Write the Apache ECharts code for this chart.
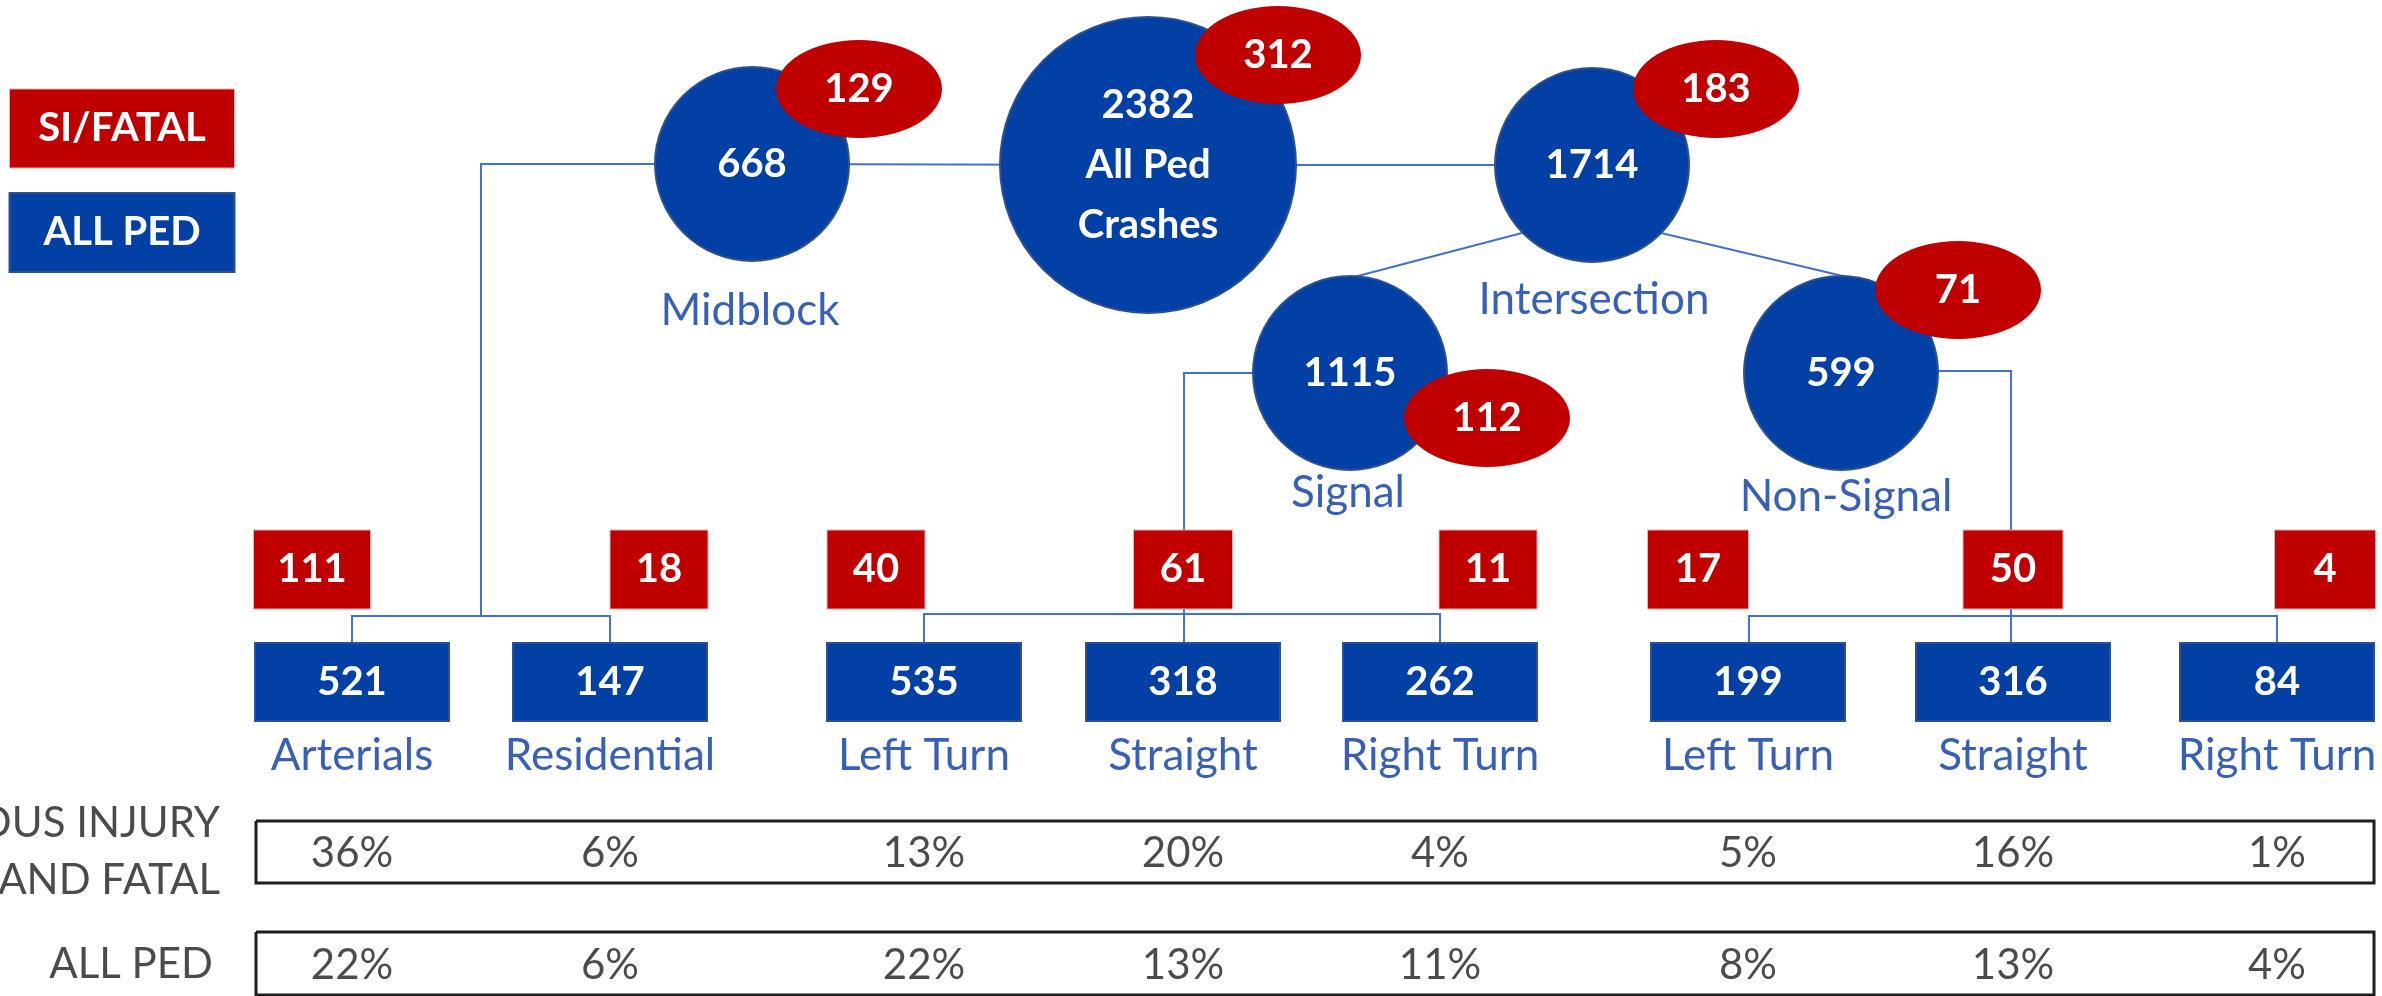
<!DOCTYPE html>
<html>
<head>
<meta charset="utf-8">
<script src="https://cdn.jsdelivr.net/npm/echarts@6/dist/echarts.min.js"></script>
<style>
html, body { margin: 0; padding: 0; background: #fff; }
#chart { width: 2382px; height: 996px; }
</style>
</head>
<body>
<div id="chart"></div>
<script>
// data
let topNames = ['Midblock', 'All Ped\nCrashes', 'Intersection', 'Signal', 'Non-Signal'];
let topAll = [668, 2382, 1714, 1115, 599];
let topSi = [129, 312, 183, 112, 71];

let leafNames = ['Arterials', 'Residential', 'Left Turn', 'Straight', 'Right Turn', 'Left Turn', 'Straight', 'Right Turn'];
let leafAll = [521, 147, 535, 318, 262, 199, 316, 84];
let leafSi = [111, 18, 40, 61, 11, 17, 50, 4];
let siShare = [36, 6, 13, 20, 4, 5, 16, 1];
let allShare = [22, 6, 22, 13, 11, 8, 13, 4];
let rowNames = ['SERIOUS INJURY\nAND FATAL', 'ALL PED'];
let legendNames = ['SI/FATAL', 'ALL PED'];

// layout (diagram space = page pixels)
let topPos = [[752, 164], [1148, 165], [1592, 165], [1350, 373], [1841, 373]];
let topSize = [194, 296, 194, 194, 194];
let topSiPos = [[859, 89], [1278, 55], [1716, 89], [1487, 418], [1958, 290]];
let topLabelPos = [[750, 311], null, [1594, 300], [1348, 493], [1846, 497]];
let leafX = [352, 610, 924, 1183, 1440, 1748, 2013, 2277];
let leafSiX = [312, 659, 876, 1183, 1488, 1698, 2013, 2325];
let leafSiW = [117, 98, 98, 99, 98, 101, 100, 101];

const BLUE = '#0340A6';
const RED = '#C00000';
const LINE = '#4472C4';
const FONT = 'Lato, "Open Sans", sans-serif';

let myChart = echarts.init(document.getElementById('chart'));

let links = [
	[[655, 164], [481, 164], [481, 616]],
	[[352, 643], [352, 616], [610, 616], [610, 643]],
	[[752, 164], [1148, 165], [1592, 165]],
	[[1522, 233], [1354, 277]],
	[[1661, 233], [1847, 277]],
	[[1253, 373], [1184, 373], [1184, 643]],
	[[924, 642], [924, 614], [1440, 614], [1440, 642]],
	[[1938, 371], [2011, 371], [2011, 644]],
	[[1749, 644], [1749, 616], [2277, 616], [2277, 644]]
];

// table frames
let frames = [[256, 821, 2374, 883], [256, 932, 2374, 995]];

let blueCircles = topAll.map((v, i) => ({
	value: [topPos[i][0], topPos[i][1], v],
	symbolSize: [topSize[i], topSize[i]],
	label: { formatter: i === 1 ? v + '\n' + topNames[1] : String(v) }
}));

let redEllipses = topSi.map((v, i) => ({
	value: [topSiPos[i][0], topSiPos[i][1], v],
	symbolSize: [166, 98]
}));

let topLabels = [];
topLabelPos.forEach((p, i) => {
	if (p) topLabels.push({ value: [p[0], p[1]], label: { formatter: topNames[i] } });
});

// boxes: [cx, cy, w, h, text, kind]
let boxes = [];
leafAll.forEach((v, i) => boxes.push([leafX[i], 682, 194, 78, String(v), 0]));
leafSi.forEach((v, i) => boxes.push([leafSiX[i], 569.5, leafSiW[i], 79, String(v), 1]));
boxes.push([122, 128.5, 225, 79, legendNames[0], 1]);
boxes.push([122, 232.5, 225, 79, legendNames[1], 0]);

let leafLabels = leafNames.map((n, i) => ({ value: [leafX[i], 756], label: { formatter: n } }));
let siRow = siShare.map((v, i) => ({ value: [leafX[i], 853, v] }));
let allRow = allShare.map((v, i) => ({ value: [leafX[i], 965, v] }));

function renderBox(params, api) {
	let b = boxes[params.dataIndex];
	let c = api.coord([b[0], b[1]]);
	let blue = b[5] === 0;
	return {
		type: 'rect',
		shape: { x: c[0] - b[2] / 2, y: c[1] - b[3] / 2, width: b[2], height: b[3] },
		style: {
			fill: blue ? BLUE : RED,
			stroke: blue ? '#2F528F' : '#E8B0B0',
			lineWidth: blue ? 2 : 1,
			text: b[4],
			textFill: '#fff',
			fontFamily: FONT,
			fontWeight: 'bold',
			fontSize: 40
		},
		textContent: {
			style: { text: b[4], fill: '#fff', fontFamily: FONT, fontWeight: 'bold', fontSize: 40 }
		},
		textConfig: { position: 'inside' }
	};
}

let textOnly = {
	type: 'scatter',
	symbolSize: 0,
	silent: true
};

option = {
	animation: false,
	grid: { left: 0, right: 0, top: 0, bottom: 0 },
	xAxis: { type: 'value', min: 0, max: 2382, show: false },
	yAxis: { type: 'value', min: 0, max: 996, inverse: true, show: false },
	series: [
		{
			type: 'lines',
			coordinateSystem: 'cartesian2d',
			polyline: true,
			silent: true,
			z: 1,
			lineStyle: { color: '#1e1e1e', width: 3, opacity: 1 },
			data: frames.map(f => ({ coords: [[f[0], f[1]], [f[2], f[1]], [f[2], f[3]], [f[0], f[3]], [f[0], f[1]]] }))
		},
		{
			type: 'lines',
			coordinateSystem: 'cartesian2d',
			polyline: true,
			silent: true,
			z: 2,
			lineStyle: { color: LINE, width: 2, opacity: 1 },
			data: links.map(c => ({ coords: c }))
		},
		{
			type: 'scatter',
			symbol: 'circle',
			silent: true,
			z: 3,
			itemStyle: { color: BLUE, borderColor: '#2F528F', borderWidth: 2, opacity: 1 },
			label: { show: true, position: 'inside', color: '#fff', fontFamily: FONT, fontWeight: 'bold', fontSize: 40, lineHeight: 60 },
			data: blueCircles
		},
		{
			type: 'scatter',
			symbol: 'circle',
			silent: true,
			z: 4,
			itemStyle: { color: RED, opacity: 1 },
			label: { show: true, position: 'inside', color: '#fff', fontFamily: FONT, fontWeight: 'bold', fontSize: 40, formatter: p => p.value[2] },
			data: redEllipses
		},
		{
			type: 'custom',
			silent: true,
			z: 4,
			renderItem: renderBox,
			data: boxes.map(b => [b[0], b[1]])
		},
		Object.assign({}, textOnly, {
			z: 5,
			label: { show: true, position: 'inside', color: '#0838A6', fontFamily: FONT, fontSize: 44 },
			data: topLabels.concat(leafLabels)
		}),
		Object.assign({}, textOnly, {
			z: 5,
			label: { show: true, position: 'inside', color: '#1e1e1e', fontFamily: FONT, fontSize: 42, formatter: p => p.value[2] + '%' },
			data: siRow.concat(allRow)
		}),
		Object.assign({}, textOnly, {
			z: 5,
			label: { show: true, position: 'left', distance: 0, align: 'right', color: '#1e1e1e', fontFamily: FONT, fontSize: 42, lineHeight: 57 },
			data: [
				{ value: [220, 852], label: { formatter: rowNames[0] } },
				{ value: [213, 964], label: { formatter: rowNames[1] } }
			]
		})
	]
};

myChart.setOption(option);
</script>
</body>
</html>
